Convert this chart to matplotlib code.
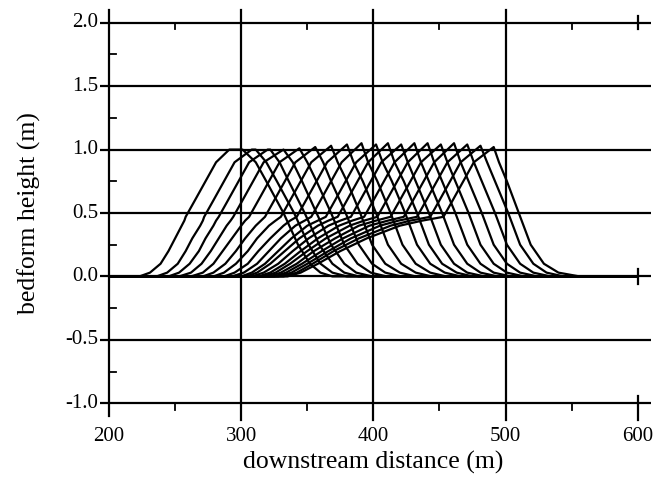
import matplotlib
matplotlib.use("Agg")
import matplotlib.pyplot as plt

# ---- data: 19 successive bedform profiles ----
# heights at which stoss (upstream) sides were read
stoss_h = [0.0, 0.03, 0.1, 0.2, 0.3, 0.4, 0.44, 0.47, 0.6, 0.75, 0.9]
# heights at which lee (downstream) sides were read
lee_h = [0.9, 0.75, 0.5, 0.25, 0.1, 0.03, 0.0]

# crest: left and right end of the top, and top height
crest_left = [291, 308, 320, 332, 344, 356, 368, 380, 391, 402, 411, 421, 431, 441, 451, 461, 471, 481, 491]
crest_right = [301, 311, 322, 332, 344, 356, 368, 380, 391, 402, 411, 421, 431, 441, 451, 461, 471, 481, 491]
crest_h = [1.0, 1.0, 1.0, 1.0, 1.01, 1.02, 1.03, 1.04, 1.05, 1.04, 1.05, 1.04, 1.05, 1.05, 1.04, 1.05, 1.04, 1.03, 1.02]

stoss_x = [
    [223, 231, 239, 245, 250, 255, 257, 258, 265, 273, 281],
    [236, 244, 252, 258, 263, 269, 271, 272, 279, 287, 295],
    [245, 253, 261, 268, 273, 279, 281, 283, 290, 298, 306],
    [253, 262, 270, 277, 283, 289, 292, 294, 301, 309, 317],
    [262, 271, 279, 286, 293, 300, 303, 306, 313, 321, 329],
    [271, 279, 288, 296, 303, 311, 315, 318, 325, 333, 341],
    [279, 287, 296, 305, 312, 321, 326, 330, 337, 345, 353],
    [287, 295, 305, 313, 322, 332, 337, 342, 349, 357, 365],
    [293, 302, 312, 321, 330, 341, 348, 353, 360, 368, 376],
    [300, 308, 318, 328, 338, 350, 358, 364, 371, 379, 387],
    [304, 312, 322, 333, 344, 358, 366, 373, 380, 388, 396],
    [308, 317, 328, 339, 351, 366, 375, 383, 390, 398, 406],
    [313, 322, 333, 345, 358, 374, 384, 393, 400, 408, 416],
    [317, 326, 337, 350, 364, 382, 393, 403, 410, 418, 426],
    [321, 330, 342, 355, 371, 389, 402, 413, 420, 428, 436],
    [325, 334, 346, 361, 377, 397, 411, 423, 430, 438, 446],
    [328, 338, 350, 366, 383, 405, 419, 433, 440, 448, 456],
    [332, 342, 354, 370, 389, 413, 428, 443, 450, 458, 466],
    [335, 345, 358, 375, 395, 420, 437, 453, 460, 468, 476],
]
lee_x = [
    [311, 319, 332, 343, 352, 360, 369],
    [319, 327, 340, 351, 360, 369, 380],
    [329, 336, 348, 359, 369, 378, 389],
    [339, 346, 357, 368, 378, 387, 399],
    [350, 357, 368, 378, 388, 398, 410],
    [362, 368, 379, 389, 399, 409, 421],
    [373, 380, 390, 399, 409, 420, 432],
    [385, 392, 402, 411, 421, 432, 444],
    [396, 403, 413, 422, 432, 443, 455],
    [407, 414, 424, 433, 443, 454, 466],
    [416, 423, 433, 442, 452, 463, 475],
    [426, 432, 442, 451, 461, 471, 484],
    [436, 442, 452, 461, 471, 481, 494],
    [446, 452, 462, 471, 481, 491, 504],
    [456, 462, 472, 481, 491, 501, 514],
    [466, 472, 482, 491, 501, 511, 524],
    [476, 482, 492, 501, 511, 521, 534],
    [486, 492, 502, 511, 521, 531, 544],
    [495, 501, 510, 519, 529, 540, 556],
]

x_major = [200, 300, 400, 500, 600]
x_minor = [250, 350, 450, 550]
y_major = [-1.0, -0.5, 0.0, 0.5, 1.0, 1.5, 2.0]
y_minor = [-0.75, -0.25, 0.25, 0.75, 1.25, 1.75]
y_labels = ["-1.0", "-0.5", "0.0", "0.5", "1.0", "1.5", "2.0"]
x_labels = ["200", "300", "400", "500", "600"]

plt.rcParams['font.family'] = ['Liberation Serif', 'DejaVu Serif']

fig = plt.figure(figsize=(6.56, 4.82), dpi=100)
ax = fig.add_axes([109 / 656, 1 - 416 / 482, (651 - 109) / 656, (416 - 10) / 482])
ax.set_xlim(200, 610)
ax.set_ylim(-1.1, 2.1)
for s in ax.spines.values():
    s.set_visible(False)
ax.set_xticks([])
ax.set_yticks([])

lw_grid = 1.6
for y in y_major:
    ax.plot([193, 610], [y, y], color='black', lw=lw_grid, clip_on=False, solid_capstyle='butt')
ax.plot([200, 200], [-1.1, 2.1], color='black', lw=lw_grid, clip_on=False)
for x in x_major[1:4]:
    ax.plot([x, x], [-1.13, 2.1], color='black', lw=lw_grid, clip_on=False)
ax.plot([600, 600], [-1.13, -0.94], color='black', lw=lw_grid, clip_on=False)
ax.plot([600, 600], [1.95, 2.05], color='black', lw=lw_grid, clip_on=False)
ax.plot([600, 600], [-0.06, 0.06], color='black', lw=lw_grid, clip_on=False)
for x in x_minor:
    ax.plot([x, x], [-1.0, -1.05], color='black', lw=1.3, clip_on=False)
    ax.plot([x, x], [2.0, 1.95], color='black', lw=1.3, clip_on=False)
for y in y_minor:
    ax.plot([200, 205], [y, y], color='black', lw=1.3, clip_on=False)

for y, lab in zip(y_major, y_labels):
    ax.text(192, y, lab, ha='right', va='center', fontsize=15)
for x, lab in zip(x_major, x_labels):
    ax.text(x, -1.19, lab, ha='center', va='top', fontsize=15)
ax.text(400, -1.465, "downstream distance (m)", ha='center', va='center', fontsize=18.5)
ax.text(140, 0.5, "bedform height (m)", ha='center', va='center', rotation=90, fontsize=18.5)

for sx, cl, cr, ch, lx in zip(stoss_x, crest_left, crest_right, crest_h, lee_x):
    xs = [200] + sx + [cl, cr] + lx + [600]
    ys = [0.0] + stoss_h + [ch, ch] + lee_h + [0.0]
    ax.plot(xs, ys, color='black', lw=1.6, solid_joinstyle='round')

fig.savefig("out.png", dpi=100)
